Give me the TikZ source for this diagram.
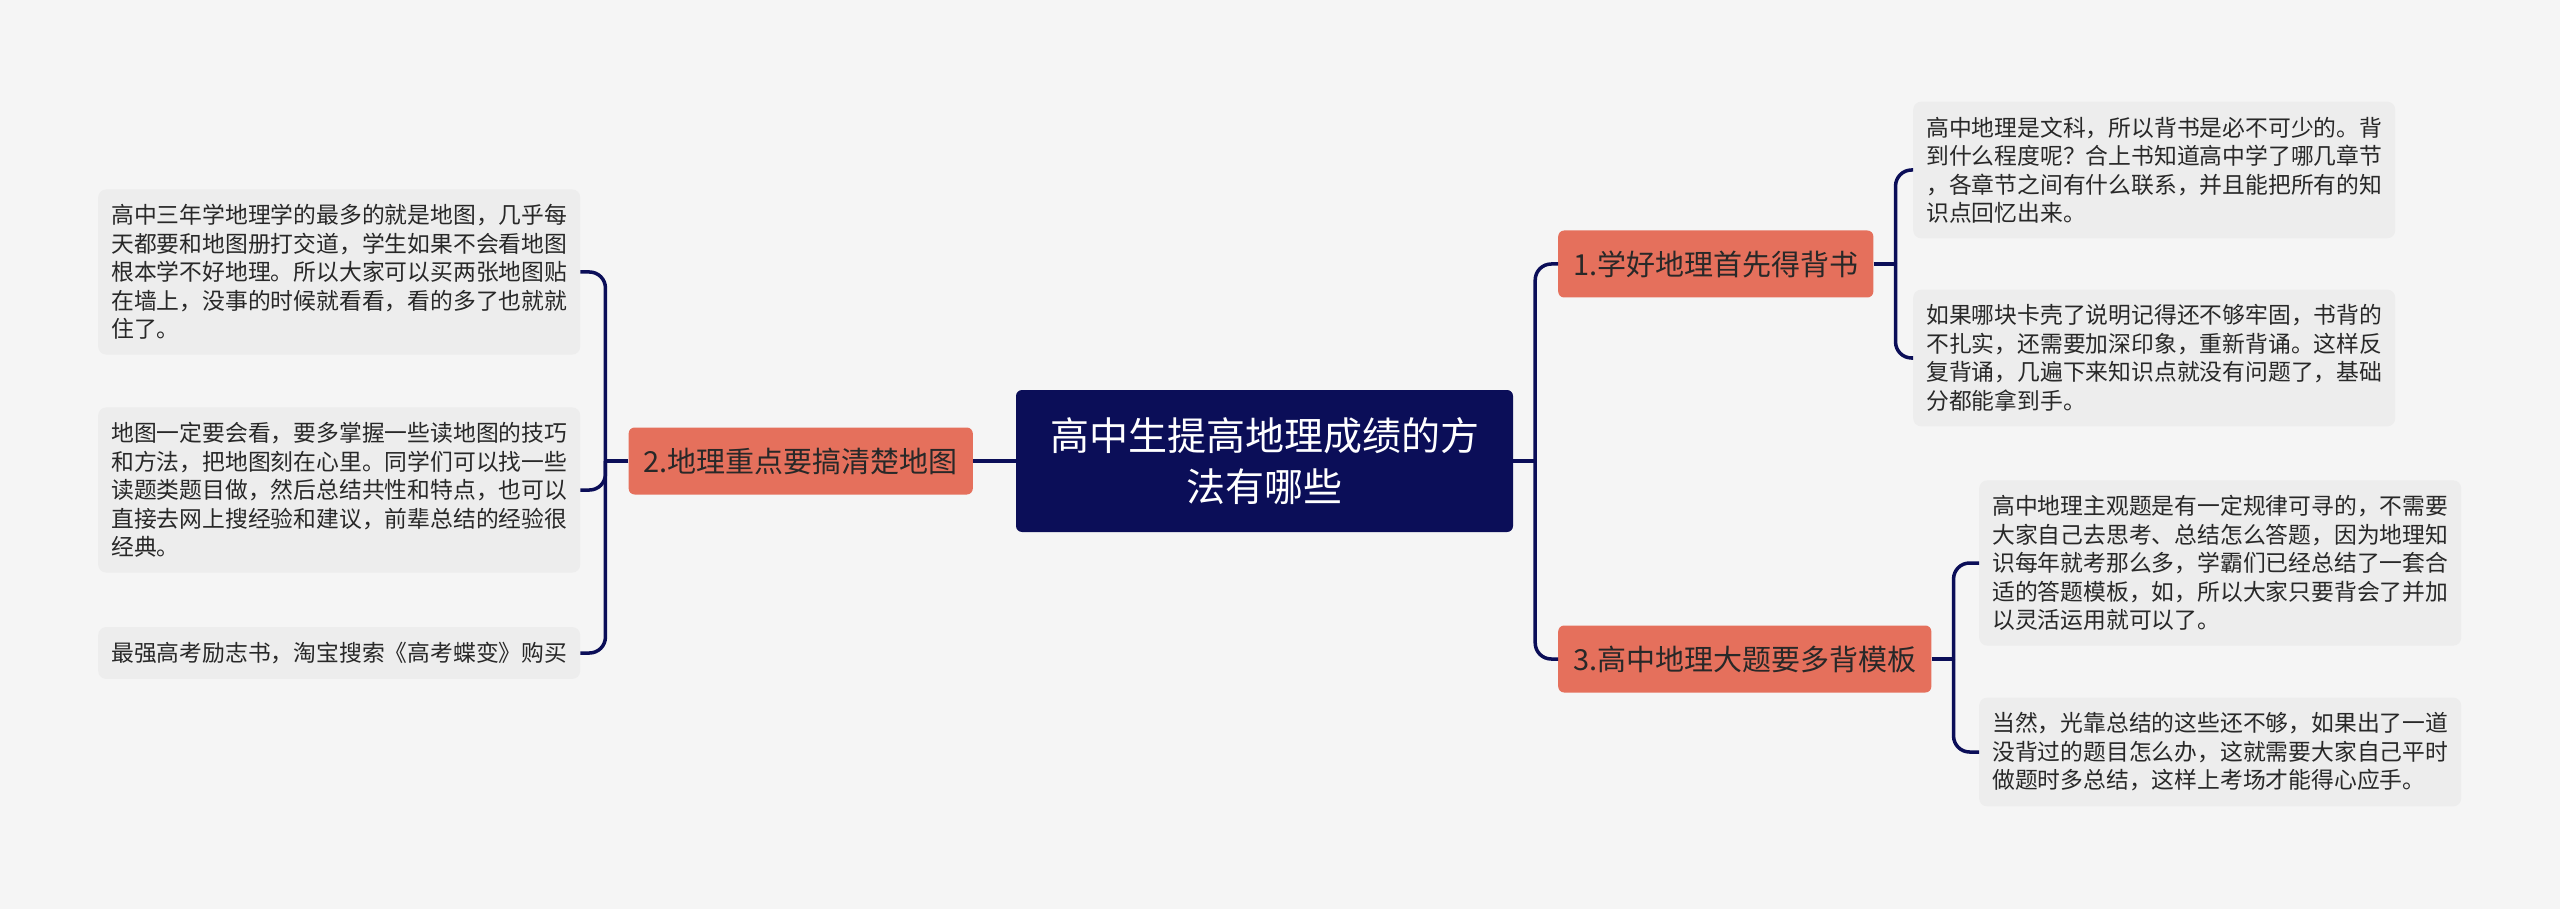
\documentclass[tikz,border=0pt]{standalone}
\usepackage{fontspec}
\setmainfont{Noto Sans CJK SC}
\usepackage{tikz}
\usetikzlibrary{positioning}
\definecolor{bgcol}{RGB}{245,245,245}
\definecolor{leafcol}{RGB}{237,237,237}
\definecolor{salmon}{RGB}{229,112,92}
\definecolor{navy}{RGB}{11,14,88}
\definecolor{ink}{RGB}{40,40,40}

\begin{document}
\begin{tikzpicture}[x=1pt,y=-1pt,
  link/.style={draw=navy, line width=3.5pt, rounded corners=16pt},
  rootbox/.style={fill=navy, text=white, rounded corners=6pt, align=center,
    text width=430pt, inner xsep=33.5pt, minimum height=142pt,
    font=\fontsize{39}{51}\selectfont},
  branchbox/.style={fill=salmon, text=ink, rounded corners=6pt, inner xsep=15pt,
    minimum height=67pt, font=\fontsize{29}{34}\selectfont},
  leafbox/.style={fill=leafcol, text=ink, rounded corners=8pt, align=left,
    text width=456pt, inner xsep=13pt, inner ysep=15pt,
    font=\fontsize{22.8}{28.5}\selectfont}]
\fill[bgcol] (0,0) rectangle (2560,909);
\useasboundingbox (0,0) rectangle (2560,909);

% centre
\node[rootbox] (root) at (1264.5,461) {高中生提高地理成绩的方\\法有哪些};

% branches
\node[branchbox, anchor=west] (b1) at (1558,264) {1.学好地理首先得背书};
\node[branchbox, anchor=east] (b2) at (973,461) {2.地理重点要搞清楚地图};
\node[branchbox, anchor=west] (b3) at (1558,659) {3.高中地理大题要多背模板};

% leaves, left
\node[leafbox, anchor=west] (l1) at (98,272) {高中三年学地理学的最多的就是地图，几乎每\\天都要和地图册打交道，学生如果不会看地图\\根本学不好地理。所以大家可以买两张地图贴\\在墙上，没事的时候就看看，看的多了也就就\\住了。};
\node[leafbox, anchor=west] (l2) at (98,490) {地图一定要会看，要多掌握一些读地图的技巧\\和方法，把地图刻在心里。同学们可以找一些\\读题类题目做，然后总结共性和特点，也可以\\直接去网上搜经验和建议，前辈总结的经验很\\经典。};
\node[leafbox, anchor=west] (l3) at (98,653) {最强高考励志书，淘宝搜索《高考蝶变》购买};

% leaves, right
\node[leafbox, anchor=west] (r1a) at (1913,170) {高中地理是文科，所以背书是必不可少的。背\\到什么程度呢？合上书知道高中学了哪几章节\\，各章节之间有什么联系，并且能把所有的知\\识点回忆出来。};
\node[leafbox, anchor=west] (r1b) at (1913,358) {如果哪块卡壳了说明记得还不够牢固，书背的\\不扎实，还需要加深印象，重新背诵。这样反\\复背诵，几遍下来知识点就没有问题了，基础\\分都能拿到手。};
\node[leafbox, anchor=west] (r3a) at (1979,563) {高中地理主观题是有一定规律可寻的，不需要\\大家自己去思考、总结怎么答题，因为地理知\\识每年就考那么多，学霸们已经总结了一套合\\适的答题模板，如，所以大家只要背会了并加\\以灵活运用就可以了。};
\node[leafbox, anchor=west] (r3b) at (1979,752) {当然，光靠总结的这些还不够，如果出了一道\\没背过的题目怎么办，这就需要大家自己平时\\做题时多总结，这样上考场才能得心应手。};

% connectors
\draw[link] (root.east) -- ++(22,0) coordinate (tr);
\draw[link] (tr) |- (b1.west);
\draw[link] (tr) |- (b3.west);
\draw[link] (root.west) -- (b2.east);
\draw[link] (b2.west) -- ++(-23,0) coordinate (tl);
\draw[link] (tl) |- (l1.east);
\draw[link] (tl) |- (l2.east);
\draw[link] (tl) |- (l3.east);
\draw[link] (b1.east) -- ++(22,0) coordinate (t1);
\draw[link] (t1) |- (r1a.west);
\draw[link] (t1) |- (r1b.west);
\draw[link] (b3.east) -- ++(22,0) coordinate (t3);
\draw[link] (t3) |- (r3a.west);
\draw[link] (t3) |- (r3b.west);
\end{tikzpicture}
\end{document}
